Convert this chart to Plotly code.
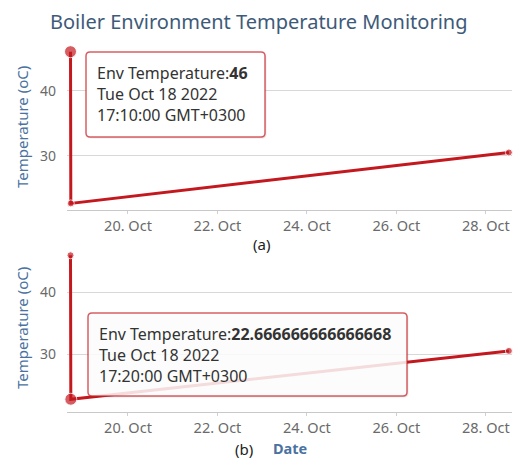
import plotly.graph_objects as go
from datetime import datetime

# ---- data ----
dates = ["2022-10-18 17:10:00", "2022-10-18 17:20:00", "2022-10-28 12:20:00"]
temps = [46, 22.666666666666668, 30.5]
series_name = "Env Temperature"
title_text = "Boiler Environment Temperature Monitoring"
y_title = "Temperature (oC)"
x_title = "Date"
panel_labels = ["(a)", "(b)"]
hover_index = [0, 1]  # hovered point in panel (a) and (b)

# page body has an 8px margin: figure is drawn at an 8px offset
OFF = 8
W, H = 524 - OFF, 461 - OFF
def px(p): return (p - OFF) / W
def py(p): return 1 - (p - OFF) / H

LINE = "#c4181f"
FONT = "Noto Sans"

fig = go.Figure()

panels = [
    dict(xa="x", ya="y", dom=(210, 45), rng=(21.65, 47.03)),
    dict(xa="x2", ya="y2", dom=(411.7, 249.1), rng=(20.65, 47.0)),
]

for i, p in enumerate(panels):
    sizes = [7] * len(temps)
    sizes[hover_index[i]] = 12
    fig.add_trace(go.Scatter(
        x=dates, y=temps, mode="lines+markers", name=series_name,
        line=dict(color=LINE, width=3),
        marker=dict(color=LINE, size=sizes),
        cliponaxis=False,
        xaxis=p["xa"], yaxis=p["ya"], showlegend=False, hoverinfo="skip"))

xcommon = dict(
    type="date", range=["2022-10-18 15:17", "2022-10-28 14:00"],
    tick0="2022-10-20", dtick=2 * 86400000, tickformat="%d. %b",
    showgrid=False, showline=True, linecolor="#c8c8c8", linewidth=1,
    ticks="outside", ticklen=3, tickcolor="#d0d0d0",
    tickfont=dict(family=FONT, size=14.5, color="#6a6a6a"), zeroline=False,
    domain=[px(67), px(512)], fixedrange=True,
)
ycommon = dict(
    tick0=0, dtick=10, showgrid=True, gridcolor="#d8d8d8", gridwidth=1,
    zeroline=False, showline=False, ticks="",
    tickfont=dict(family=FONT, size=14, color="#6a6a6a"),
    ticklabelstandoff=10, fixedrange=True,
)

fig.update_layout(
    width=W, height=H, margin=dict(l=0, r=0, t=0, b=0),
    paper_bgcolor="white", plot_bgcolor="white",
    xaxis=dict(**xcommon, anchor="y"),
    xaxis2=dict(**xcommon, anchor="y2"),
    yaxis=dict(**ycommon, anchor="x", domain=[py(panels[0]["dom"][0]), py(panels[0]["dom"][1])], range=list(panels[0]["rng"])),
    yaxis2=dict(**ycommon, anchor="x2", domain=[py(panels[1]["dom"][0]), py(panels[1]["dom"][1])], range=list(panels[1]["rng"])),
    font=dict(family=FONT),
)

ann = []
shapes = []
# title
ann.append(dict(text=title_text, x=px(258), y=py(21.5), xref="paper", yref="paper",
                showarrow=False, xanchor="center", yanchor="middle",
                font=dict(family=FONT, size=20, color="#3e5a78")))
# y titles
for cy in (127, 328):
    ann.append(dict(text=y_title, x=px(22), y=py(cy), xref="paper", yref="paper",
                    showarrow=False, textangle=-90, xanchor="center", yanchor="middle",
                    font=dict(family=FONT, size=15, color="#4a72a0")))
# x title
ann.append(dict(text="<b>" + x_title + "</b>", x=px(290), y=py(448), xref="paper", yref="paper",
                showarrow=False, xanchor="center", yanchor="middle",
                font=dict(family=FONT, size=14.5, color="#4a72a0")))
# panel labels
for lbl, (lx, ly) in zip(panel_labels, [(261, 244), (244, 449)]):
    ann.append(dict(text=lbl, x=px(lx), y=py(ly), xref="paper", yref="paper",
                    showarrow=False, xanchor="center", yanchor="middle",
                    font=dict(family=FONT, size=15, color="#222222")))

def rounded_rect(x0, y0, x1, y1, r=4):
    X0, X1 = px(x0), px(x1)
    Y0, Y1 = py(y0), py(y1)
    rx, ry = r / W, r / H
    return (f"M {X0+rx},{Y0} L {X1-rx},{Y0} Q {X1},{Y0} {X1},{Y0-ry} "
            f"L {X1},{Y1+ry} Q {X1},{Y1} {X1-rx},{Y1} L {X0+rx},{Y1} "
            f"Q {X0},{Y1} {X0},{Y1+ry} L {X0},{Y0-ry} Q {X0},{Y0} {X0+rx},{Y0} Z")

boxes = [(86, 52, 265, 137, [72.7, 94, 115.3], 1.0),
         (88, 313, 407, 396, [334, 355, 375.5], 0.85)]
for k, (x0, y0, x1, y1, lines_y, op) in enumerate(boxes):
    idx = hover_index[k]
    dt = datetime.strptime(dates[idx], "%Y-%m-%d %H:%M:%S")
    texts = [f"{series_name}:<b>{temps[idx]}</b>",
             dt.strftime("%a %b %d %Y"),
             dt.strftime("%H:%M:%S") + " GMT+0300"]
    # shadow
    shapes.append(dict(type="path", path=rounded_rect(x0 + 1.5, y0 + 1.5, x1 + 1.5, y1 + 1.5),
                       xref="paper", yref="paper", fillcolor="rgba(0,0,0,0.08)",
                       line=dict(width=0), layer="above"))
    shapes.append(dict(type="path", path=rounded_rect(x0, y0, x1, y1),
                       xref="paper", yref="paper", fillcolor=f"rgba(255,255,255,{op})",
                       line=dict(color="rgba(200,40,45,0.75)", width=1.5), layer="above"))
    for t, ly in zip(texts, lines_y):
        ann.append(dict(text=t, x=px(x0 + 9), y=py(ly), xref="paper", yref="paper",
                        showarrow=False, xanchor="left", yanchor="middle",
                        font=dict(family=FONT, size=16, color="#333333")))

fig.update_layout(annotations=ann, shapes=shapes)
fig.write_html("out.html")
